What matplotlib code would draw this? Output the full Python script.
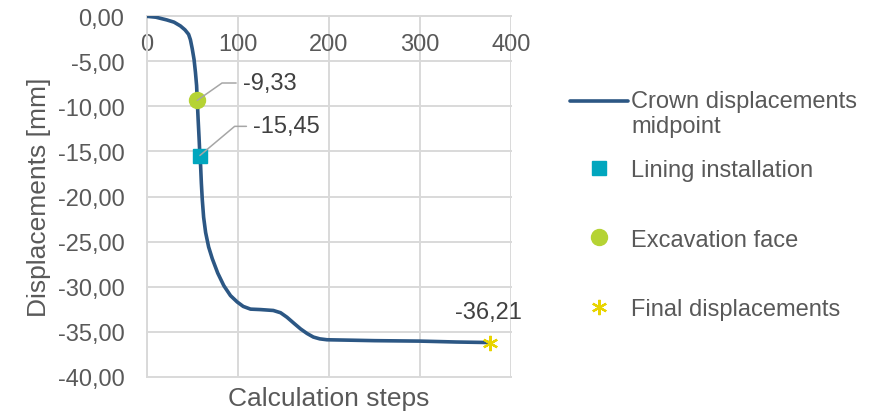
import numpy as np
import matplotlib
matplotlib.use("Agg")
import matplotlib.pyplot as plt
from matplotlib.lines import Line2D
from matplotlib.legend_handler import HandlerLine2D

# ---------------- data ----------------
steps = [0, 10, 22, 30, 37, 42, 46, 48, 50, 52, 53.5, 54.8, 55.5, 56.5, 57.5, 58.4,
         59.2, 60, 61, 62.5, 64.7, 68, 72, 78, 84.7, 92, 99.3, 106, 114, 125, 139,
         147, 154, 162, 169, 176, 183, 190, 198, 225, 250, 300, 340, 377]
disp = [0, -0.1, -0.4, -0.65, -1.07, -1.5, -2.0, -2.6, -3.6, -4.8, -6.2, -7.7, -9.33,
        -11.5, -13.5, -15.45, -16.6, -18.5, -20.3, -22.3, -24.0, -25.6, -26.9, -28.5,
        -29.9, -31.0, -31.7, -32.2, -32.5, -32.55, -32.65, -32.9, -33.4, -34.1, -34.7,
        -35.2, -35.6, -35.8, -35.9, -35.95, -36.0, -36.05, -36.15, -36.21]

lining_x = [58.4]
lining_y = [-15.45]
face_x = [55.5]
face_y = [-9.33]
final_x = [377]
final_y = [-36.21]

x_ticks = [0, 100, 200, 300, 400]
y_ticks = [0, -5, -10, -15, -20, -25, -30, -35, -40]

series_labels = ["Crown displacements\nmidpoint", "Lining installation",
                 "Excavation face", "Final displacements"]
x_title = "Calculation steps"
y_title = "Displacements [mm]"

# ---------------- style ----------------
FONT = "Liberation Sans"
TXT = "#595959"
LBL = "#404040"
GRID = "#d9d9d9"
C_LINE = "#2c5784"
C_SQ = "#00a6be"
C_CI = "#b5d334"
C_ST = "#e8d400"
FS = 17

plt.rcParams['font.family'] = [FONT, 'DejaVu Sans']

fig = plt.figure(figsize=(8.84, 4.14), dpi=100)
W, H = 884, 414
ax = fig.add_axes([146.7 / W, 1 - 377.7 / H, (511 - 146.7) / W, (377.7 - 17.3) / H])

ax.set_xlim(0, 400)
ax.set_ylim(-40, 0)
ax.set_xticks(x_ticks)
ax.set_yticks(y_ticks)
ax.set_yticklabels([f"{v:.2f}".replace('.', ',') for v in y_ticks])

ax.grid(True, color=GRID, linewidth=1.4)
ax.set_axisbelow(True)
for gl in ax.get_ygridlines() + ax.get_xgridlines():
    gl.set_clip_on(False)

for s in ['top', 'right']:
    ax.spines[s].set_visible(False)
ax.spines['bottom'].set_position(('data', 0))
ax.spines['bottom'].set_color(GRID)
ax.spines['left'].set_color(GRID)
ax.spines['bottom'].set_linewidth(1.4)
ax.spines['left'].set_linewidth(1.4)

ax.tick_params(axis='x', length=0, pad=12, labelsize=FS, labelcolor=TXT)
ax.tick_params(axis='y', length=0, pad=16, labelsize=FS, labelcolor=TXT)

ax.set_xlabel(x_title, fontsize=19, color=TXT)
ax.xaxis.set_label_coords(0.5, -0.027)
ax.set_ylabel(y_title, fontsize=19, color=TXT)
ax.yaxis.set_label_coords(-0.263, 0.5)

line, = ax.plot(steps, disp, color=C_LINE, linewidth=2.6, solid_capstyle='round',
                zorder=3, label=series_labels[0])
sq, = ax.plot(lining_x, lining_y, linestyle='none', marker='s', markersize=10.5,
              color=C_SQ, zorder=4, label=series_labels[1])
ci, = ax.plot(face_x, face_y, linestyle='none', marker='o', markersize=11.5,
              color=C_CI, zorder=4, label=series_labels[2])
st, = ax.plot(final_x, final_y, linestyle='none', marker=(6, 2, 0), markersize=11,
              markeredgewidth=1.6, color=C_ST, zorder=4, label=series_labels[3])

def fmt(v):
    return f"{v:.2f}".replace('.', ',')

ax.annotate(fmt(face_y[0]), xy=(face_x[0], face_y[0]), xytext=(33, 12.5),
            textcoords='offset points', ha='left', va='center', fontsize=FS, color=LBL,
            zorder=6, annotation_clip=False,
            arrowprops=dict(arrowstyle='-', color='#a6a6a6', lw=1.1, shrinkA=3, shrinkB=0,
                            relpos=(0, 0.5),
                            connectionstyle="angle,angleA=0,angleB=35,rad=0"))
ax.annotate(fmt(lining_y[0]), xy=(lining_x[0], lining_y[0]), xytext=(38.5, 21),
            textcoords='offset points', ha='left', va='center', fontsize=FS, color=LBL,
            zorder=6, annotation_clip=False,
            arrowprops=dict(arrowstyle='-', color='#a6a6a6', lw=1.1, shrinkA=3, shrinkB=0,
                            relpos=(0, 0.5),
                            connectionstyle="angle,angleA=0,angleB=40,rad=0"))
ax.annotate(fmt(final_y[0]), xy=(final_x[0], final_y[0]), xytext=(-1, 22),
            textcoords='offset points', ha='center', va='center', fontsize=FS, color=LBL,
            zorder=6, annotation_clip=False)


class TopLine(HandlerLine2D):
    def __init__(self, dy=0.0, **kw):
        super().__init__(**kw)
        self.dy = dy

    def create_artists(self, legend, orig_handle, xdescent, ydescent, width, height,
                       fontsize, trans):
        return super().create_artists(legend, orig_handle, xdescent,
                                      ydescent - 2 * self.dy * fontsize, width, height,
                                      fontsize, trans)


leg_kw = dict(frameon=False, prop={'family': FONT, 'size': FS}, labelcolor=TXT,
              handlelength=2.45, handletextpad=0.15, borderpad=0, borderaxespad=0,
              loc='upper left')
legA = fig.legend(handles=[line], labels=[series_labels[0]],
                  bbox_to_anchor=(570 / W, 1 - 91 / H),
                  handler_map={line: TopLine(dy=0.56)}, **leg_kw)
legB = fig.legend(handles=[sq, ci, st], labels=series_labels[1:],
                  bbox_to_anchor=(570 / W, 1 - 160 / H), labelspacing=2.02, **leg_kw)

fig.savefig("out.png", dpi=100)
